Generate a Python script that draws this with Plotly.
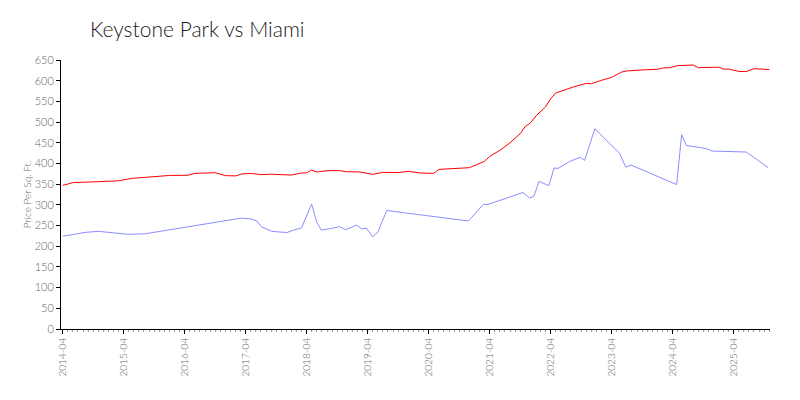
import plotly.graph_objects as go

title_text = "Keystone Park vs Miami"
y_title = "Price Per Sq. Ft."

keystone_dates = [
    "2014-04-01", "2014-06-05", "2014-09-01", "2014-12-10", "2015-03-01", "2015-05-20",
    "2015-10-05", "2016-01-01", "2016-04-20", "2016-06-01", "2016-10-01", "2016-12-01",
    "2017-02-01", "2017-03-08", "2017-05-01", "2017-07-01", "2017-09-01", "2018-01-01",
    "2018-03-01", "2018-04-01", "2018-05-01", "2018-06-01", "2018-08-01", "2018-10-15",
    "2018-11-25", "2019-02-15", "2019-05-01", "2019-07-01", "2019-10-01", "2019-12-01",
    "2020-02-10", "2020-05-01", "2020-06-01", "2020-09-01", "2020-12-01", "2021-03-01",
    "2021-04-01", "2021-06-01", "2021-08-01", "2021-10-01", "2021-11-01", "2021-12-01",
    "2022-01-05", "2022-03-01", "2022-04-01", "2022-05-01", "2022-06-15", "2022-08-15",
    "2022-11-01", "2022-12-01", "2023-02-01", "2023-04-01", "2023-06-01", "2023-07-01",
    "2023-10-01", "2024-01-01", "2024-02-01", "2024-03-15", "2024-05-01", "2024-08-01",
    "2024-09-01", "2024-11-01", "2025-01-01", "2025-02-01", "2025-03-05", "2025-05-01",
    "2025-06-15", "2025-08-01", "2025-11-01",
]
keystone_values = [
    347, 354, 355, 357.6, 358, 364,
    369, 371, 371.5, 376, 377.7, 370.5,
    370, 374.6, 376, 373, 374, 372,
    377, 377.5, 384, 379.4, 382.6, 382.7,
    380, 379.4, 373.7, 378.5, 378, 381,
    377, 376, 385.7, 387, 389.8, 405,
    417, 431.6, 450, 472, 489.7, 497.8,
    515.5, 536.5, 556, 570, 576.7, 584.8,
    593.5, 592.8, 601, 608, 621, 623.5,
    626, 627.5, 630.6, 631.5, 636.3, 638,
    631.5, 632, 632.6, 628, 628, 622.5,
    622, 629, 627,
]

miami_dates = [
    "2014-04-01", "2014-08-13", "2014-11-01", "2015-02-10", "2015-04-28", "2015-08-06",
    "2015-12-04", "2016-04-04", "2016-08-20", "2017-01-07", "2017-03-07", "2017-05-07",
    "2017-06-07", "2017-07-04", "2017-09-04", "2017-12-04", "2018-01-13", "2018-03-01",
    "2018-05-01", "2018-06-01", "2018-06-28", "2018-08-28", "2018-10-15", "2018-11-21",
    "2019-01-25", "2019-02-25", "2019-03-25", "2019-05-01", "2019-06-01", "2019-07-25",
    "2019-09-21", "2019-11-21", "2020-02-10", "2020-04-07", "2020-06-07", "2020-11-25",
    "2021-02-22", "2021-03-22", "2021-06-22", "2021-10-19", "2021-11-25", "2021-12-22",
    "2022-01-22", "2022-03-22", "2022-04-22", "2022-05-16", "2022-07-25", "2022-09-25",
    "2022-10-22", "2022-12-22", "2023-03-19", "2023-05-19", "2023-06-25", "2023-07-28",
    "2024-04-25", "2024-05-25", "2024-06-22", "2024-10-22", "2024-11-22", "2025-06-16",
    "2025-10-25",
]
miami_values = [
    224, 233.4, 236, 232.7, 228.7, 230,
    237.5, 245.6, 254.5, 264, 268, 265.6,
    261, 247, 236, 233, 239, 244,
    302, 257.7, 239, 243, 247.2, 240,
    251, 242, 244, 223, 233.5, 286.6,
    282.7, 280, 276, 273.8, 269.8, 261,
    301, 301, 314, 330, 316.5, 320.5,
    356.7, 346.3, 389, 388, 405, 414.7,
    407.5, 484, 449, 425, 391.5, 396,
    349, 469.6, 443.7, 435.7, 430, 427.7,
    389.8,
]

x_range = ["2014-03-22", "2025-11-05"]
y_range = [0, 650]

font_family = "Lato, 'Open Sans', sans-serif"

fig = go.Figure()
fig.add_trace(go.Scatter(x=keystone_dates, y=keystone_values, mode="lines",
                         line=dict(color="#ff0000", width=1), name="Keystone Park"))
fig.add_trace(go.Scatter(x=miami_dates, y=miami_values, mode="lines",
                         line=dict(color="#8c8cff", width=1), name="Miami"))

fig.update_layout(
    width=800, height=400,
    margin=dict(l=53, r=38, t=52, b=79),
    paper_bgcolor="white", plot_bgcolor="white",
    showlegend=False,
    font=dict(family=font_family, color="#666666", size=11, weight=300),
    title=dict(text=title_text, x=82 / 800, xanchor="left", y=1 - 22 / 400, yanchor="middle",
               font=dict(family=font_family, size=21, color="#1a1a1a", weight=300)),
)
fig.update_xaxes(
    type="date", range=x_range,
    tick0="2014-04-01", dtick="M12", tickformat="%Y-%m", tickangle=-90,
    ticks="outside", ticklen=4, tickcolor="black", tickwidth=1,
    minor=dict(dtick="M1", ticks="outside", ticklen=2, tickcolor="#999999", tickwidth=1),
    showline=True, linecolor="black", linewidth=1, showgrid=False, zeroline=False,
    tickfont=dict(size=10, color="#666666"),
)
fig.update_yaxes(
    range=y_range, dtick=50, tick0=0,
    ticks="outside", ticklen=4, tickcolor="black", tickwidth=1,
    showline=True, linecolor="black", linewidth=1, showgrid=False, zeroline=False,
    tickfont=dict(size=11, color="#666666"),
    title=dict(text=y_title, font=dict(size=10, color="#666666"), standoff=1),
)

fig.write_html("out.html")
